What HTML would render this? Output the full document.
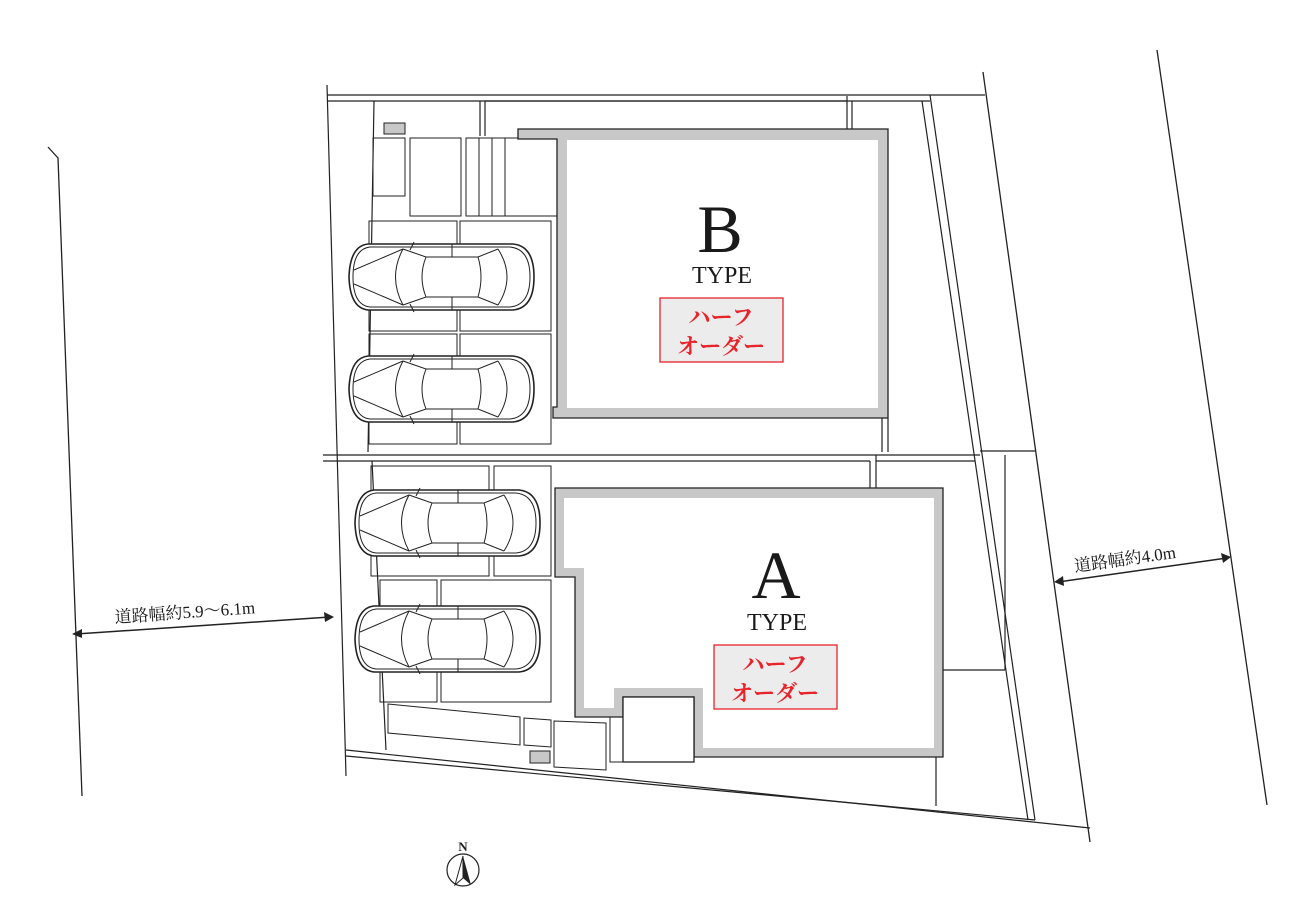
<!DOCTYPE html>
<html><head><meta charset="utf-8"><style>
html,body{margin:0;padding:0;background:#fff;}
svg{display:block}
text{font-family:"Liberation Serif","Noto Serif CJK SC",serif;}
</style></head><body>
<svg width="1300" height="915" viewBox="0 0 1300 915" xmlns="http://www.w3.org/2000/svg">
<defs>
<g id="car" stroke="#222" stroke-width="1">
  <path d="M20,4 L165,4 Q186,6 186,37 Q186,68 165,70 L20,70 Q2,68 1,37 Q2,6 20,4 Z" stroke-width="1.6" fill="#fff"/>
  <g fill="none">
  <path d="M22,7 L162,7 Q182,9 182,37 Q182,65 162,67 L22,67 Q5,65 5,37 Q5,9 22,7 Z"/>
  <path d="M6,30 L55,9 M6,44 L55,65"/>
  <path d="M55,9 Q40,37 55,65"/>
  <path d="M55,9 L78,17 L130,17 L150,9 M55,65 L78,57 L130,57 L150,65"/>
  <path d="M78,17 Q70,37 78,57 M130,17 Q136,37 130,57"/>
  <path d="M150,9 Q168,37 150,65"/>
  <path d="M66,2 L62,10 M66,72 L62,64"/>
  <path d="M104,4 L104,17 M104,57 L104,70"/>
  </g>
</g>
</defs>

<g stroke="#222" stroke-width="1.3" fill="none">
<path d="M48,147 L58,158 L82,796"/>
<path d="M983,72 L1090,842"/>
<path d="M1157,50 L1267,805"/>
</g>

<g stroke="#222" stroke-width="1.2" fill="none">
<path d="M327,85 L346,776"/>
<path d="M327,95 L985,95"/>
<path d="M327,101 L930,101"/>
<path d="M930,95 L1035,820"/>
<path d="M922,101 L1028,820"/>
<path d="M346,750 L1090,828"/>
<path d="M346,756 L1035,820"/>
<path d="M374,101 L368,452"/>
<path d="M372,461 L386,750"/>
<path d="M323,455 L980,455"/>
<path d="M323,461 L870,461"/>
<path d="M980,451 L1035,451"/>
<path d="M876,455 L876,488"/>
<path d="M870,461 L870,488"/>
<path d="M876,461 L975,461"/>
<path d="M943,670 L1005,670"/>
<path d="M1005,455 L1005,670"/>
<path d="M936,757 L936,806"/>
<path d="M480,101 L480,136 M485,101 L485,136"/>
<path d="M485,101 L847,101 L847,129"/>
<path d="M852,101 L852,129"/>
<path d="M847,96 L847,101"/>
<path d="M882,418 L882,452 M888,418 L888,452"/>
</g>

<g stroke="#222" stroke-width="1" fill="none">
<rect x="384" y="123" width="21" height="11" fill="#c8c8c8"/>
<rect x="373" y="138" width="32" height="58"/>
<rect x="410" y="138" width="51" height="78"/>
<rect x="466" y="138" width="91" height="78"/>
<path d="M479,138 L479,216 M492,138 L492,216 M505,138 L505,216"/>
<rect x="369" y="221" width="88" height="110"/>
<rect x="460" y="221" width="91" height="110"/>
<rect x="369" y="334" width="88" height="110"/>
<rect x="460" y="334" width="91" height="110"/>
<rect x="371" y="466" width="118" height="110"/>
<rect x="494" y="466" width="57" height="110"/>
<rect x="380" y="580" width="57" height="122"/>
<rect x="441" y="580" width="110" height="122"/>
<path d="M388,704 L520,717 L520,745 L388,733 Z"/>
<path d="M524,718 L551,720 L551,747 L524,745 Z"/>
<rect x="530" y="751" width="20" height="12" fill="#c8c8c8"/>
<path d="M554,721 L606,723 L606,770 L554,767 Z"/>
<rect x="610" y="697" width="13" height="65"/>
</g>

<path d="M518,129 L888,129 L888,418 L553,418 L553,407 L557,407 L557,139 L518,139 Z" fill="#c8c8c8" stroke="#222" stroke-width="1.3"/>
<rect x="567" y="140" width="311" height="268" fill="#fff"/>

<path d="M555,488 L943,488 L943,757 L694,757 L694,697 L623,697 L623,717 L575,717 L575,577 L555,577 Z" fill="#c8c8c8" stroke="#222" stroke-width="1.3"/>
<path d="M564,498 L934,498 L934,748 L703,748 L703,688 L614,688 L614,708 L584,708 L584,568 L564,568 Z" fill="#fff"/>
<rect x="623" y="697" width="71" height="65" fill="#fff" stroke="#222" stroke-width="1.3"/>

<use href="#car" transform="translate(348,240)"/>
<use href="#car" transform="translate(348,352)"/>
<use href="#car" transform="translate(354,486)"/>
<use href="#car" transform="translate(354,602)"/>

<text x="720" y="252" font-size="68" text-anchor="middle" fill="#1a1a1a">B</text>
<text x="722" y="283" font-size="24" text-anchor="middle" fill="#1a1a1a">TYPE</text>
<rect x="660" y="298" width="123" height="64" fill="#ececec" stroke="#e8242a" stroke-width="1.3"/>
<text x="721" y="325" font-size="22" font-weight="bold" text-anchor="middle" fill="#e8242a">ハーフ</text>
<text x="721" y="354" font-size="22" font-weight="bold" text-anchor="middle" fill="#e8242a">オーダー</text>

<text x="776" y="598" font-size="68" text-anchor="middle" fill="#1a1a1a">A</text>
<text x="777" y="630" font-size="24" text-anchor="middle" fill="#1a1a1a">TYPE</text>
<rect x="714" y="645" width="123" height="64" fill="#ececec" stroke="#e8242a" stroke-width="1.3"/>
<text x="775" y="672" font-size="22" font-weight="bold" text-anchor="middle" fill="#e8242a">ハーフ</text>
<text x="775" y="701" font-size="22" font-weight="bold" text-anchor="middle" fill="#e8242a">オーダー</text>

<g stroke="#222" stroke-width="1.5" fill="#222">
<line x1="76" y1="634" x2="330" y2="617"/>
<path d="M72,634 L82,629 L82,638 Z" stroke="none"/>
<path d="M334,617 L324,612 L325,622 Z" stroke="none"/>
<line x1="1058" y1="582" x2="1227" y2="558"/>
<path d="M1054,582 L1063,576 L1064,586 Z" stroke="none"/>
<path d="M1231,557 L1221,553 L1223,563 Z" stroke="none"/>
</g>
<text x="115" y="623" font-size="17" fill="#1a1a1a" transform="rotate(-4 115 623)">道路幅約5.9〜6.1m</text>
<text x="1075" y="572" font-size="17" fill="#1a1a1a" transform="rotate(-8 1075 572)">道路幅約4.0m</text>

<circle cx="463" cy="870" r="16" fill="#fff" stroke="#222" stroke-width="1.2"/>
<path d="M463,856 L455,885 L463,878 Z" fill="#fff" stroke="#222"/>
<path d="M463,856 L471,885 L463,878 Z" fill="#222"/>
<text x="463" y="851" font-size="13" font-weight="bold" text-anchor="middle" font-family="Liberation Sans, sans-serif" fill="#222">N</text>
</svg>
</body></html>
